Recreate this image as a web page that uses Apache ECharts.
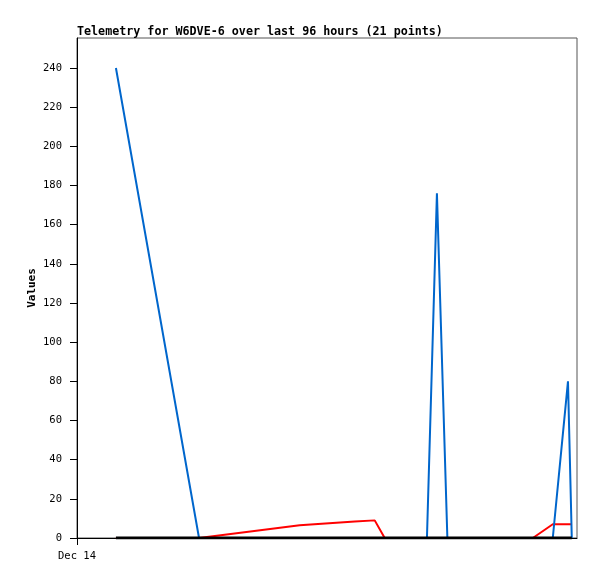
<!DOCTYPE html>
<html>
<head>
<meta charset="utf-8">
<script src="https://cdn.jsdelivr.net/npm/echarts@6/dist/echarts.min.js"></script>
<style>
  html, body { margin: 0; padding: 0; background: #fff; }
  #chart { width: 597px; height: 579px; }
</style>
</head>
<body>
<div id="chart"></div>
<script>
// hours after Dec 14 00:00
const hours = [8.2, 25.7, 46.9, 58.5, 62.7, 64.8, 73.7, 75.8, 78.0, 96.0, 100.2, 103.4, 104.2]
const blueValues = [240, 0, 0, 0, 0, 0, 0, 176, 0, 0, 0, 80, 0]
const redValues = [0, 0, 6.5, 8.4, 9, 0, 0, 0, 0, 0, 7, 7, 7]
const blackValues = [0, 0, 0, 0, 0, 0, 0, 0, 0, 0, 0, 0, 0]
const yTicks = [0, 20, 40, 60, 80, 100, 120, 140, 160, 180, 200, 220, 240]
const xTicks = [0]
const xTickLabels = ['Dec 14']

const pairs = vals => hours.map((h, i) => [h, vals[i]])
const mono = 'DejaVu Sans Mono'

let chart = echarts.init(document.getElementById('chart'))
chart.setOption({
  animation: false,
  backgroundColor: '#fff',
  title: {
    text: 'Telemetry for W6DVE-6 over last 96 hours (21 points)',
    left: 77,
    top: 26,
    padding: 0,
    textStyle: { fontFamily: mono, fontSize: 11.7, fontWeight: 'bold', color: '#000' }
  },
  grid: {
    left: 77, right: 20, top: 38, bottom: 41,
    show: true, borderColor: '#555', borderWidth: 1,
    outerBoundsMode: 'none'
  },
  xAxis: {
    type: 'value',
    min: 0,
    max: 105.3,
    axisLine: { show: true, lineStyle: { color: '#000', width: 1 } },
    axisTick: { show: true, length: 7, customValues: xTicks, lineStyle: { color: '#000' } },
    axisLabel: {
      customValues: xTicks,
      formatter: v => xTickLabels[xTicks.indexOf(v)] || '',
      margin: 13,
      fontFamily: mono, fontSize: 10.5, color: '#000'
    },
    splitLine: { show: false }
  },
  yAxis: {
    type: 'value',
    min: 0,
    max: 255.3,
    name: 'Values',
    nameLocation: 'middle',
    nameRotate: 90,
    nameGap: 39,
    nameMoveOverlap: false,
    nameTextStyle: { fontFamily: mono, fontSize: 11, fontWeight: 'bold', color: '#000' },
    axisLine: { show: true, lineStyle: { color: '#000', width: 1 } },
    axisTick: { show: true, length: 7, customValues: yTicks, lineStyle: { color: '#000' } },
    axisLabel: {
      customValues: yTicks,
      margin: 15,
      fontFamily: mono, fontSize: 10.5, color: '#000'
    },
    splitLine: { show: false }
  },
  series: [
    {
      type: 'line', data: pairs(redValues), showSymbol: false, z: 2,
      lineStyle: { color: '#ff0000', width: 2 }, itemStyle: { color: '#ff0000' }
    },
    {
      type: 'line', data: pairs(blueValues), showSymbol: false, z: 3,
      lineStyle: { color: '#0066cc', width: 2 }, itemStyle: { color: '#0066cc' }
    },
    {
      type: 'line', data: pairs(blackValues), showSymbol: false, z: 4,
      lineStyle: { color: '#000', width: 3 }, itemStyle: { color: '#000' }
    }
  ]
})
</script>
</body>
</html>
